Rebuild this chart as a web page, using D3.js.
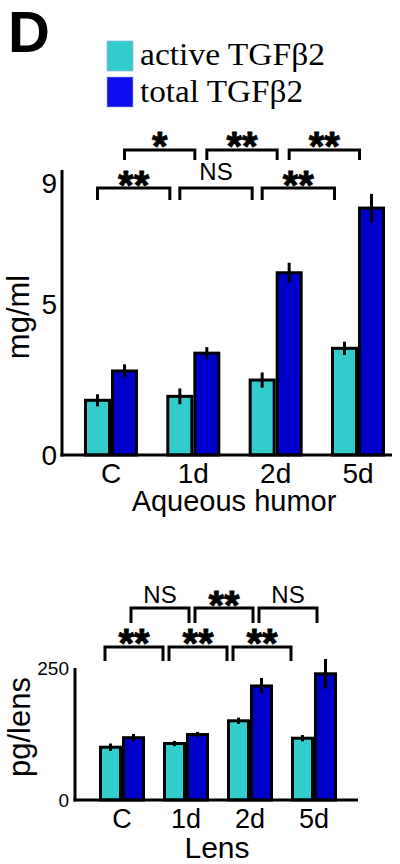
<!DOCTYPE html>
<html><head><meta charset="utf-8">
<script src="https://cdn.jsdelivr.net/npm/d3@7"></script>
<style>body{margin:0;background:#fff}svg{display:block}</style>
</head><body>
<script>
// ---- data ----
const categories = ["C", "1d", "2d", "5d"];
const seriesNames = ["active TGFβ2", "total TGFβ2"];

const aqActive = [1.81, 1.94, 2.48, 3.53];
const aqActiveErr = [0.2, 0.26, 0.25, 0.22];
const aqTotal = [2.78, 3.37, 6.03, 8.17];
const aqTotalErr = [0.22, 0.2, 0.33, 0.47];
const aqTicks = [0, 5, 9];
const aqSigLower = ["**", "NS", "**"];
const aqSigUpper = ["*", "**", "**"];

const lensActive = [100, 107, 150, 117];
const lensActiveErr = [7, 5, 6, 6];
const lensTotal = [118, 124, 216, 239];
const lensTotalErr = [7, 5, 15, 28];
const lensTicks = [0, 250];
const lensSigLower = ["**", "**", "**"];
const lensSigUpper = ["NS", "**", "NS"];

const TEAL = "#33CCCC", BLUE = "#0000CC", LEG_BLUE = "#0D0DF0";
const SANS = "'Liberation Sans', Arial, sans-serif";
const SERIF = "'Liberation Serif', 'Times New Roman', serif";

const svg = d3.select("body").append("svg").attr("width", 400).attr("height", 864);

// panel letter
svg.append("text").attr("x", 8).attr("y", 52).attr("font-family", SANS)
  .attr("font-weight", "bold").attr("font-size", 58).text("D");

// legend
const legColors = [TEAL, LEG_BLUE];
const legY = [41, 77];
const legW = [185, 163];
const legBase = [65, 102];
seriesNames.forEach((s, i) => {
  svg.append("rect").attr("x", 107).attr("y", legY[i]).attr("width", 26).attr("height", 30)
    .attr("fill", legColors[i]).attr("stroke", "#9ad").attr("stroke-width", 0.6);
  svg.append("text").attr("x", 140).attr("y", legBase[i]).attr("font-family", SERIF)
    .attr("font-size", 31).attr("textLength", legW[i]).attr("lengthAdjust", "spacingAndGlyphs")
    .text(s);
});

function drawPanel(o) {
  const g = svg.append("g");
  const x = d3.scalePoint().domain(categories).range(o.xRange);
  const y = d3.scaleLinear().domain(o.yDomain).range(o.yRange);
  const bw = o.barW, gap = o.gap;
  const series = [
    { vals: o.active, errs: o.activeErr, color: TEAL, off: -gap / 2 - bw },
    { vals: o.total, errs: o.totalErr, color: BLUE, off: gap / 2 }
  ];
  series.forEach(s => {
    g.selectAll(null).data(categories).join("rect")
      .attr("x", d => x(d) + s.off)
      .attr("y", (d, i) => y(s.vals[i]))
      .attr("width", bw)
      .attr("height", (d, i) => y(0) - y(s.vals[i]))
      .attr("fill", s.color).attr("stroke", "#000").attr("stroke-width", 3);
    g.selectAll(null).data(categories).join("line")
      .attr("x1", d => x(d) + s.off + bw / 2).attr("x2", d => x(d) + s.off + bw / 2)
      .attr("y1", (d, i) => y(s.vals[i] + s.errs[i]))
      .attr("y2", (d, i) => y(s.vals[i] - s.errs[i]))
      .attr("stroke", "#000").attr("stroke-width", 3);
  });
  // axes
  const x0 = o.axisX;
  g.append("line").attr("x1", x0).attr("x2", x0).attr("y1", o.axisTop).attr("y2", y(0) + 1.5)
    .attr("stroke", "#000").attr("stroke-width", 3);
  g.append("line").attr("x1", x0 - 1.5).attr("x2", o.axisRight).attr("y1", y(0)).attr("y2", y(0))
    .attr("stroke", "#000").attr("stroke-width", 3);
  // y tick labels
  g.selectAll(null).data(o.ticks).join("text")
    .attr("x", o.tickX).attr("y", d => y(d)).attr("dy", "0.36em")
    .attr("text-anchor", "end").attr("font-family", SANS).attr("font-size", o.tickSize)
    .text(d => d);
  // x tick labels
  g.selectAll(null).data(categories).join("text")
    .attr("x", d => x(d)).attr("y", o.xLabelY).attr("text-anchor", "middle")
    .attr("font-family", SANS).attr("font-size", o.xLabelSize).text(d => d);
  // titles
  g.append("text").attr("x", o.xTitleX).attr("y", o.xTitleY).attr("text-anchor", "middle")
    .attr("font-family", SANS).attr("font-size", o.xTitleSize).text(o.xTitle);
  g.append("text").attr("transform", `translate(${o.yTitleX},${o.yTitleY}) rotate(-90)`)
    .attr("text-anchor", "middle").attr("font-family", SANS).attr("font-size", o.yTitleSize)
    .text(o.yTitle);
  // significance brackets
  function brackets(labels, row) {
    labels.forEach((lab, i) => {
      const a = x(categories[i]) + row.startOff;
      const b = x(categories[i + 1]) + row.endOff;
      g.append("path")
        .attr("d", `M${a},${row.legY}V${row.topY}H${b}V${row.legY}`)
        .attr("fill", "none").attr("stroke", "#000").attr("stroke-width", 3);
      const star = lab.indexOf("*") >= 0;
      g.append("text").attr("x", (a + b) / 2)
        .attr("y", star ? row.starBase : row.nsBase)
        .attr("text-anchor", "middle").attr("font-family", SANS)
        .attr("font-weight", star ? "bold" : "normal")
        .attr("font-size", star ? row.starSize : row.nsSize)
        .attr("stroke", star ? "#000" : "none").attr("stroke-width", star ? 0.8 : 0)
        .text(lab);
    });
  }
  brackets(o.sigLower, o.lowerRow);
  brackets(o.sigUpper, o.upperRow);
}

drawPanel({
  xRange: [111, 358], yDomain: [0, 9], yRange: [455, 183],
  barW: 24, gap: 3,
  active: aqActive, activeErr: aqActiveErr, total: aqTotal, totalErr: aqTotalErr,
  axisX: 62, axisTop: 170, axisRight: 392,
  ticks: aqTicks, tickX: 57, tickSize: 28,
  xLabelY: 483, xLabelSize: 28,
  xTitle: "Aqueous humor", xTitleX: 234, xTitleY: 511, xTitleSize: 29,
  yTitle: "mg/ml", yTitleX: 29, yTitleY: 317, yTitleSize: 31,
  sigLower: aqSigLower, sigUpper: aqSigUpper,
  lowerRow: { startOff: -13.5, endOff: -23.5, topY: 188, legY: 200, starBase: 199, nsBase: 180, starSize: 40, nsSize: 24 },
  upperRow: { startOff: 13.5, endOff: 1.5, topY: 150, legY: 160, starBase: 160, nsBase: 143, starSize: 40, nsSize: 24 }
});

drawPanel({
  xRange: [122, 314], yDomain: [0, 250], yRange: [800, 668],
  barW: 20, gap: 3,
  active: lensActive, activeErr: lensActiveErr, total: lensTotal, totalErr: lensTotalErr,
  axisX: 75, axisTop: 668, axisRight: 358,
  ticks: lensTicks, tickX: 69, tickSize: 19,
  xLabelY: 828, xLabelSize: 27,
  xTitle: "Lens", xTitleX: 217, xTitleY: 858, xTitleSize: 30,
  yTitle: "pg/lens", yTitleX: 30, yTitleY: 727, yTitleSize: 31,
  sigLower: lensSigLower, sigUpper: lensSigUpper,
  lowerRow: { startOff: -17, endOff: -23, topY: 647, legY: 661, starBase: 657, nsBase: 640, starSize: 40, nsSize: 24 },
  upperRow: { startOff: 9, endOff: 3, topY: 608, legY: 623, starBase: 619, nsBase: 603, starSize: 40, nsSize: 24 }
});
</script>
</body></html>
